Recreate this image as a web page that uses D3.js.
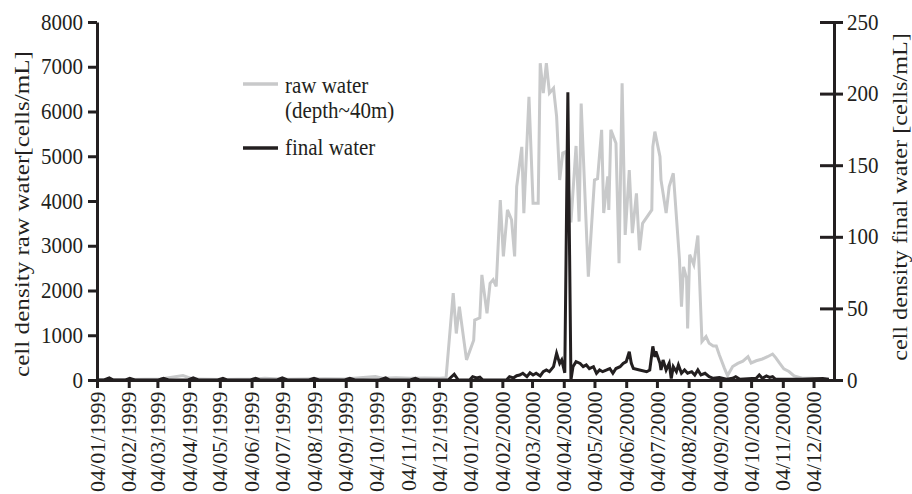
<!DOCTYPE html>
<html>
<head>
<meta charset="utf-8">
<script src="https://cdn.jsdelivr.net/npm/d3@7"></script>
<style>
  body { margin: 0; background: #fff; }
  svg text { font-family: "Liberation Serif"; fill: #231f20; }
</style>
</head>
<body>
<svg id="chart" width="912" height="494"></svg>
<script>
// tick labels (dd/mm/yyyy) and axis ticks
const xTickLabels = ["04/01/1999","04/02/1999","04/03/1999","04/04/1999","04/05/1999","04/06/1999",
  "04/07/1999","04/08/1999","04/09/1999","04/10/1999","04/11/1999","04/12/1999",
  "04/01/2000","04/02/2000","04/03/2000","04/04/2000","04/05/2000","04/06/2000",
  "04/07/2000","04/08/2000","04/09/2000","04/10/2000","04/11/2000","04/12/2000"]
const rawTicks = [0, 1000, 2000, 3000, 4000, 5000, 6000, 7000, 8000]
const finalTicks = [0, 50, 100, 150, 200, 250]

// raw water (depth~40m), cells/mL
const rawDates = ["1999-01-04","1999-02-05","1999-03-07","1999-03-29","1999-04-08","1999-05-06",
  "1999-06-05","1999-06-17","1999-07-07","1999-08-15","1999-09-03","1999-09-24","1999-10-03",
  "1999-10-10","1999-10-23","1999-11-06","1999-11-20","1999-12-05","1999-12-11","1999-12-18",
  "1999-12-21","1999-12-24","1999-12-31","2000-01-07","2000-01-08","2000-01-13","2000-01-15",
  "2000-01-20","2000-01-23","2000-01-26","2000-01-29","2000-02-02","2000-02-05","2000-02-09",
  "2000-02-13","2000-02-16","2000-02-18","2000-02-23","2000-02-25","2000-03-01","2000-03-05",
  "2000-03-10","2000-03-12","2000-03-15","2000-03-18","2000-03-21","2000-03-25","2000-03-28",
  "2000-03-31","2000-04-03","2000-04-06","2000-04-11","2000-04-16","2000-04-19","2000-04-21",
  "2000-04-28","2000-05-04","2000-05-07","2000-05-11","2000-05-13","2000-05-17","2000-05-18",
  "2000-05-20","2000-05-25","2000-05-28","2000-05-31","2000-06-03","2000-06-07","2000-06-10",
  "2000-06-14","2000-06-17","2000-06-20","2000-06-29","2000-06-30","2000-07-02","2000-07-07",
  "2000-07-08","2000-07-13","2000-07-16","2000-07-20","2000-07-26","2000-07-28","2000-07-30",
  "2000-08-02","2000-08-03","2000-08-05","2000-08-09","2000-08-13","2000-08-17","2000-08-21",
  "2000-08-24","2000-08-28","2000-08-31","2000-09-03","2000-09-08","2000-09-11","2000-09-16",
  "2000-09-21","2000-09-26","2000-10-01","2000-10-04","2000-10-09","2000-10-15","2000-10-20",
  "2000-10-25","2000-10-28","2000-11-01","2000-11-05","2000-11-10","2000-11-15","2000-11-23",
  "2000-12-03","2000-12-16"]
const rawValues = [10,10,20,100,20,10,
  20,40,15,30,20,60,80,
  40,50,40,45,40,50,1940,
  1040,1640,450,890,1340,1390,2350,
  1490,2160,2240,2090,4020,2760,3800,
  3580,2760,4320,5210,3730,6330,3950,
  3950,7080,6410,7080,6410,6520,5890,
  4470,5070,5100,3520,5230,3540,6180,
  2310,4470,4500,5590,3730,4550,3800,
  5590,5290,2610,6630,3240,4690,3280,
  4170,2900,3500,3800,5210,5550,4990,
  4470,3730,4320,4620,2700,1640,2530,
  2270,1150,2800,2580,3230,860,970,
  820,760,760,560,260,100,300,
  370,420,520,380,430,470,520,
  580,500,370,250,190,90,40,
  40,0]

// final water, cells/mL
const finalDates = ["1999-01-04","1999-01-11","1999-01-16","1999-01-20","1999-02-01","1999-02-05",
  "1999-02-10","1999-03-05","1999-03-10","1999-03-15","1999-04-03","1999-04-08","1999-04-13",
  "1999-05-02","1999-05-07","1999-05-11","1999-06-03","1999-06-08","1999-06-12","1999-06-29",
  "1999-07-04","1999-07-09","1999-07-30","1999-08-04","1999-08-09","1999-09-03","1999-09-08",
  "1999-09-13","1999-10-07","1999-10-13","1999-10-17","1999-11-06","1999-11-11","1999-11-15",
  "1999-12-13","1999-12-19","1999-12-23","2000-01-03","2000-01-06","2000-01-10","2000-01-13",
  "2000-01-16","2000-02-08","2000-02-11","2000-02-15","2000-02-18","2000-02-21","2000-02-24",
  "2000-02-28","2000-03-02","2000-03-05","2000-03-08","2000-03-12","2000-03-15","2000-03-18",
  "2000-03-21","2000-03-25","2000-03-28","2000-03-31","2000-04-02","2000-04-05","2000-04-08",
  "2000-04-11","2000-04-13","2000-04-16","2000-04-20","2000-04-23","2000-04-26","2000-04-29",
  "2000-05-03","2000-05-06","2000-05-09","2000-05-12","2000-05-16","2000-05-19","2000-05-22",
  "2000-05-25","2000-05-29","2000-06-01","2000-06-04","2000-06-07","2000-06-09","2000-06-11",
  "2000-06-17","2000-06-24","2000-06-27","2000-06-30","2000-07-02","2000-07-03","2000-07-07",
  "2000-07-08","2000-07-10","2000-07-13","2000-07-16","2000-07-18","2000-07-20","2000-07-23",
  "2000-07-25","2000-07-28","2000-07-31","2000-08-03","2000-08-07","2000-08-10","2000-08-13",
  "2000-08-16","2000-08-20","2000-08-24","2000-08-28","2000-09-03","2000-09-10","2000-09-16",
  "2000-09-19","2000-09-23","2000-10-09","2000-10-12","2000-10-15","2000-10-19","2000-10-22",
  "2000-10-25","2000-10-28","2000-11-23","2000-12-13","2000-12-19"]
const finalValues = [0,0,1.5,0,0,1.2,
  0,0,1.2,0,0,1.5,0,
  0,1.2,0,0,1.2,0,0,
  1.5,0,0,1.2,0,0,1.2,
  0,0,1.5,0,0,1.2,0,
  0,4,0,0,2.3,1.5,2,
  0,0,2.3,1.5,3,3.5,4.7,
  2.3,5,3.5,4.7,2.8,5.8,7,
  5.8,9.3,18.6,11.6,14,5,201,
  0,9.3,12.8,11.6,9.3,10.5,8,
  9.3,4.7,7,5.8,7,8,4.7,
  8,9.3,11.6,12.8,19.8,11.6,8,
  7,5.8,7,23.5,16,20,11.6,
  7,14,7,11.6,1,9.3,5.8,
  10.5,4.7,7,4.7,5.8,3.5,7,
  3.5,4.7,2.3,1.2,1.8,0.5,1.2,
  2.3,0.5,1.2,3.5,1.2,2.8,1.8,
  2.3,0.5,0.5,1,0.5]

const ink = "#231f20"
const grey = "#c8c9ca"
const serif = "Liberation Serif"
const syTick = 1.05   // the type in the original is a little stretched vertically
const margin = { top: 22, right: 78, bottom: 114, left: 97 }
const width = 912 - margin.left - margin.right
const height = 494 - margin.top - margin.bottom

const parseIso = d3.timeParse("%Y-%m-%d")
const parseTick = d3.timeParse("%d/%m/%Y")

const svg = d3.select("#chart")
const chart = svg.append("g")
  .attr("transform", `translate(${margin.left}, ${margin.top})`)

const xScale = d3.scaleTime()
  .domain([parseIso("1999-01-04"), parseIso("2000-12-24")])
  .range([0, width])
const yRaw = d3.scaleLinear().domain([0, 8000]).range([height, 0])
const yFinal = d3.scaleLinear().domain([0, 250]).range([height, 0])

const raw = rawDates.map((d, i) => ({ date: parseIso(d), value: rawValues[i] }))
const fin = finalDates.map((d, i) => ({ date: parseIso(d), value: finalValues[i] }))

// lines
const rawLine = d3.line().x(d => xScale(d.date)).y(d => yRaw(d.value))
const finLine = d3.line().x(d => xScale(d.date)).y(d => yFinal(d.value))

chart.append("path")
  .datum(raw)
  .attr("d", rawLine)
  .attr("fill", "none")
  .attr("stroke", grey)
  .attr("stroke-width", 3)

chart.append("path")
  .datum(fin)
  .attr("d", finLine)
  .attr("fill", "none")
  .attr("stroke", ink)
  .attr("stroke-width", 3)

// axes
const styleAxis = (g) => {
  g.attr("font-family", serif)
  g.select(".domain").attr("stroke", ink).attr("stroke-width", 3)
  g.selectAll(".tick line").attr("stroke", ink).attr("stroke-width", 3)
  g.selectAll(".tick text").attr("fill", ink)
    .style("font-size", "21px")
    .style("font-family", serif)
}

const xAxis = chart.append("g")
  .attr("transform", `translate(0, ${height})`)
  .call(d3.axisBottom(xScale)
    .tickValues(xTickLabels.map(parseTick))
    .tickFormat(d3.timeFormat("%d/%m/%Y"))
    .tickSize(8)
    .tickSizeOuter(0))
styleAxis(xAxis)
xAxis.selectAll(".tick text")
  .attr("text-anchor", "end")
  .attr("x", -11)
  .attr("y", 0)
  .attr("dy", "0.34em")
  .attr("transform", `scale(1, ${syTick}) rotate(-90)`)

const leftAxis = chart.append("g")
  .call(d3.axisLeft(yRaw).tickValues(rawTicks).tickFormat(d3.format("d"))
    .tickSize(9).tickPadding(5).tickSizeOuter(0))
styleAxis(leftAxis)
leftAxis.selectAll(".tick text").attr("transform", `scale(1, ${syTick})`)

const rightAxis = chart.append("g")
  .attr("transform", `translate(${width}, 0)`)
  .call(d3.axisRight(yFinal).tickValues(finalTicks).tickFormat(d3.format("d"))
    .tickSize(9).tickPadding(4).tickSizeOuter(0))
styleAxis(rightAxis)
rightAxis.selectAll(".tick line").attr("x1", -14)
rightAxis.selectAll(".tick text").attr("transform", `scale(1, ${syTick})`)

// axis titles: stretched along the axis to the length they have in the original
function axisTitle(label, x, yCenter, span) {
  const t = svg.append("text")
    .attr("text-anchor", "middle")
    .style("font-family", serif)
    .style("font-size", "21px")
    .text(label)
  const len = t.node().getComputedTextLength()
  t.attr("transform", `translate(${x}, ${yCenter}) scale(1, ${span / len}) rotate(-90)`)
}
axisTitle("cell density raw water[cells/mL]", 28.5, 214, 326)
axisTitle("cell density final water [cells/mL]", 907, 197, 328)

// legend
const legend = svg.append("g")
legend.append("line")
  .attr("x1", 243).attr("x2", 278).attr("y1", 84).attr("y2", 84)
  .attr("stroke", grey).attr("stroke-width", 3.5)
legend.append("line")
  .attr("x1", 243).attr("x2", 278).attr("y1", 148).attr("y2", 148)
  .attr("stroke", ink).attr("stroke-width", 3.5)

const legendText = [["raw water", 93], ["(depth~40m)", 117.5], ["final water", 155]]
legendText.forEach(([t, y]) => {
  legend.append("text")
    .attr("transform", `translate(285, ${y}) scale(1, ${syTick})`)
    .style("font-family", serif)
    .style("font-size", "21px")
    .text(t)
})
</script>
</body>
</html>
